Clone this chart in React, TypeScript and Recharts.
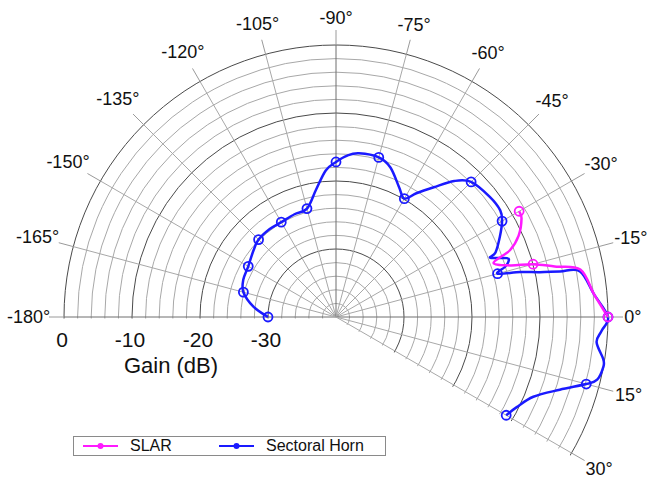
import React from 'react'
import { RadarChart, Radar, PolarGrid, PolarAngleAxis, PolarRadiusAxis, Legend } from 'recharts'

const W = 650
const H = 481
// chart centre and outer radius (0 dB ring)
const CX = 336
const CY = 317
const R = 272
const FONT = '"Liberation Sans", Arial, Helvetica, sans-serif'

const HORN_COLOR = '#1a1aff'
const SLAR_COLOR = '#ff1aff'

// Sectoral Horn, angle in degrees / gain in dB
const hornAngles = [
  -180, -173, -165, -158, -150, -141, -135, -127, -120, -112, -105, -99, -94, -90, -86, -82, -75,
  -70, -64, -60, -57, -53, -49, -45, -38, -33, -30, -26, -22, -21, -19, -17.7, -16.5, -15, -13.7,
  -12.4, -11.5, -10.6, -5, 0, 3, 5.5, 9, 10.5, 13.5, 15, 18, 22, 26.5, 30,
]
const hornGain = [
  -30, -27.8, -25.9, -25.3, -25.1, -24.4, -23.9, -23.8, -23.9, -23.7, -23.5, -21.1, -18.4, -17.2,
  -16.2, -15.7, -15.7, -16.6, -18.8, -19.9, -18.3, -16.1, -13.5, -11.9, -11.3, -11.2, -11.8, -13.2,
  -14.7, -15.7, -13.4, -13.4, -14.1, -15.4, -12.1, -9.3, -6.4, -3.5, -1.9, 0, -0.9, -1.5, -0.2, 0,
  -0.5, -1.9, -5.4, -8.7, -10.3, -11.1,
]

// SLAR
const slarAngles = [-30, -28, -24, -21, -19, -16.5, -15, -13, -11, -5, 0]
const slarGain = [-8.9, -9.1, -10.6, -12.6, -15.5, -13.3, -10.0, -7.0, -3.4, -1.9, 0]

// axis ticks
const angleTicks = [-180, -165, -150, -135, -120, -105, -90, -75, -60, -45, -30, -15, 0, 15, 30]
const gainTicks = [-38, -36, -34, -32, -30, -28, -26, -24, -22, -20, -18, -16, -14, -12, -10, -8, -6, -4, -2, 0]
const gainLabels = [-30, -20, -10, 0]

const pick = (angles: number[], values: number[], a: number) => {
  const i = angles.indexOf(a)
  return i < 0 ? null : values[i]
}

const allAngles = Array.from(new Set([...hornAngles, ...slarAngles])).sort((a, b) => a - b)
const data = allAngles.map((a) => ({
  angle: a,
  horn: pick(hornAngles, hornGain, a),
  slar: pick(slarAngles, slarGain, a),
}))

// catmull-rom through the points the radar computed
function smoothPath(pts: { x: number; y: number }[]) {
  if (pts.length < 2) return ''
  let d = `M${pts[0].x},${pts[0].y}`
  for (let i = 0; i < pts.length - 1; i++) {
    const p0 = pts[i - 1] || pts[i]
    const p1 = pts[i]
    const p2 = pts[i + 1]
    const p3 = pts[i + 2] || p2
    const c1x = p1.x + (p2.x - p0.x) / 6
    const c1y = p1.y + (p2.y - p0.y) / 6
    const c2x = p2.x - (p3.x - p1.x) / 6
    const c2y = p2.y - (p3.y - p1.y) / 6
    d += ` C${c1x},${c1y} ${c2x},${c2y} ${p2.x},${p2.y}`
  }
  return d
}

const curveShape = (color: string) => (props: any) => {
  const pts = (props.points || []).filter(
    (p: any) => p.value != null && Number.isFinite(p.x) && Number.isFinite(p.y)
  )
  return <path d={smoothPath(pts)} fill="none" stroke={color} strokeWidth={2.5} strokeLinejoin="round" />
}

// open circle marker on every 15 deg sample
const markerDot = (color: string, key: string) => (props: any) => {
  const { cx, cy, index, payload } = props
  const row = payload && payload.payload ? payload.payload : payload
  const v = row ? row[key] : null
  const ang = row ? row.angle : NaN
  if (v == null || !Number.isFinite(cx) || !Number.isFinite(cy) || ang % 15 !== 0) {
    return <g key={`d-${key}-${index}`} />
  }
  return <circle key={`d-${key}-${index}`} cx={cx} cy={cy} r={4.5} fill="none" stroke={color} strokeWidth={1.8} />
}

const AngleTick = (props: any) => {
  const { x, y, payload } = props
  const a = (payload.coordinate * Math.PI) / 180
  const ux = Math.cos(-a)
  const uy = Math.sin(-a)
  const label = `${payload.value}°`
  let w = 7.2
  for (const ch of String(payload.value)) w += ch === '-' ? 6 : 10
  const d = 3 + 0.8 * Math.abs(ux) * (w / 2) + Math.abs(uy) * 9
  return (
    <text
      x={x + d * ux}
      y={y + d * uy}
      textAnchor="middle"
      dominantBaseline="central"
      fontSize={18}
      fontFamily={FONT}
      fill="#111"
    >
      {label}
    </text>
  )
}

const GainTick = (props: any) => {
  const { x, y, payload } = props
  if (!gainLabels.includes(payload.value)) return <g />
  return (
    <text x={x - 2} y={y + 30} textAnchor="middle" fontSize={21} fontFamily={FONT} fill="#111">
      {payload.value}
    </text>
  )
}

const LegendBox = ({ payload }: any) => {
  const items = [
    (payload || []).find((p: any) => p.dataKey === 'slar'),
    (payload || []).find((p: any) => p.dataKey === 'horn'),
  ].filter(Boolean)
  const lefts = [9, 145]
  return (
    <div
      style={{
        position: 'relative',
        width: 313,
        height: 20,
        boxSizing: 'border-box',
        border: '1.5px solid #8a8a8a',
        fontFamily: FONT,
        fontSize: 16,
        color: '#111',
      }}
    >
      {items.map((it: any, i: number) => (
        <div
          key={it.dataKey}
          style={{ position: 'absolute', left: lefts[i], top: 0, height: 18, display: 'flex', alignItems: 'center' }}
        >
          <svg width={35} height={10} style={{ display: 'block' }}>
            <line x1={0} x2={35} y1={5} y2={5} stroke={it.color} strokeWidth={2} />
            <circle cx={17.5} cy={5} r={3} fill={it.color} />
          </svg>
          <span style={{ marginLeft: 12, lineHeight: '18px' }}>{it.value}</span>
        </div>
      ))}
    </div>
  )
}

// the grid only covers -180..30 deg; clip everything else away
const rad = (30.3 * Math.PI) / 180
const clipD = `M0,0 L900,0 L${CX + 800 * Math.cos(rad)},${CY + 1.5 + 800 * Math.sin(rad)} L${CX},${CY + 1.5} L0,${CY + 1.5} Z`

// every 10 dB ring and the -180/-90/0 spokes are drawn darker
const gridCss = `
.recharts-polar-grid { clip-path: url(#gridClip); }
.recharts-polar-grid circle:nth-of-type(5n) { stroke: #4a4a4a; }
.recharts-polar-grid line:nth-of-type(6n+1) { stroke: #6e6e6e; }
`

export default function App() {
  return (
    <div style={{ position: 'absolute', left: 0, top: 0, width: W, height: H, background: '#fff' }}>
      <style>{gridCss}</style>
      <svg width={0} height={0} style={{ position: 'absolute' }}>
        <defs>
          <clipPath id="gridClip">
            <path d={clipD} />
          </clipPath>
        </defs>
      </svg>
      <RadarChart
        width={W}
        height={H}
        data={data}
        cx={CX}
        cy={CY}
        innerRadius={0}
        outerRadius={R}
        startAngle={180}
        endAngle={-30}
        margin={{ top: 0, right: 0, bottom: 0, left: 0 }}
      >
        <PolarGrid gridType="circle" stroke="#a8a8a8" strokeWidth={1} />
        <PolarAngleAxis
          dataKey="angle"
          type="number"
          domain={[-180, 30]}
          ticks={angleTicks}
          axisLine={false}
          tickLine={{ stroke: '#9a9a9a' }}
          tickSize={15}
          tick={<AngleTick />}
        />
        <PolarRadiusAxis
          type="number"
          domain={[-40, 0]}
          ticks={gainTicks}
          angle={180}
          axisLine={false}
          tickLine={false}
          tick={<GainTick />}
        />
        <Radar
          name="Sectoral Horn"
          dataKey="horn"
          stroke={HORN_COLOR}
          fill="none"
          isAnimationActive={false}
          shape={curveShape(HORN_COLOR)}
          dot={markerDot(HORN_COLOR, 'horn')}
          legendType="line"
        />
        <Radar
          name="SLAR"
          dataKey="slar"
          stroke={SLAR_COLOR}
          fill="none"
          isAnimationActive={false}
          shape={curveShape(SLAR_COLOR)}
          dot={markerDot(SLAR_COLOR, 'slar')}
          legendType="line"
        />
        <Legend
          verticalAlign="bottom"
          wrapperStyle={{ left: 73, top: 436, bottom: 'auto', width: 313, height: 20 }}
          content={<LegendBox />}
        />
      </RadarChart>
      <div
        style={{
          position: 'absolute',
          left: 71,
          top: 354,
          width: 200,
          textAlign: 'center',
          fontFamily: FONT,
          fontSize: 22,
          lineHeight: '24px',
          color: '#111',
        }}
      >
        Gain (dB)
      </div>
    </div>
  )
}
